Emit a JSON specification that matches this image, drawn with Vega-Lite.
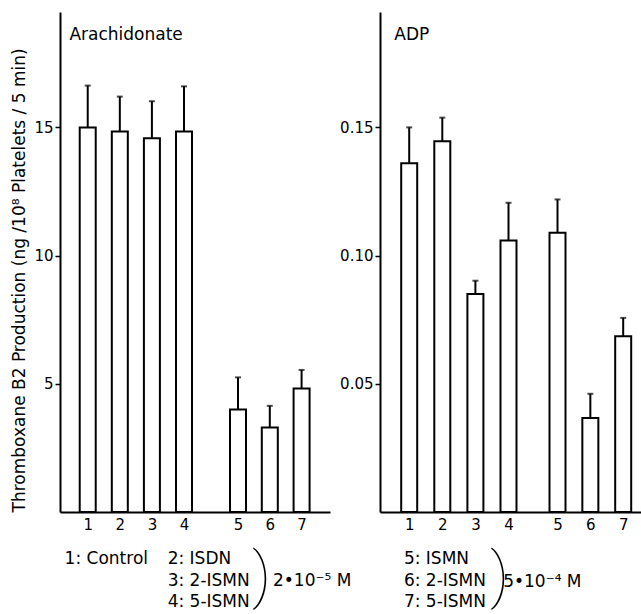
{
  "$schema": "https://vega.github.io/schema/vega-lite/v6.json",
  "padding": {"left": 10, "top": 12, "right": 0, "bottom": 0},
  "bounds": "flush",
  "spacing": 50,
  "config": {
    "view": {"stroke": null},
    "font": "DejaVu Sans",
    "axis": {"domainColor": "black", "domainWidth": 2, "tickColor": "black", "labelColor": "black", "titleColor": "black", "grid": false, "labelFont": "DejaVu Sans", "titleFont": "DejaVu Sans"},
    "text": {"font": "DejaVu Sans", "color": "black"}
  },
  "hconcat": [
    {
      "width": 270,
      "height": 500,
      "data": {"values": [
        {"n": 1, "mean": 15.0, "upper": 16.63},
        {"n": 2, "mean": 14.84, "upper": 16.2},
        {"n": 3, "mean": 14.58, "upper": 16.02},
        {"n": 4, "mean": 14.84, "upper": 16.6},
        {"n": 5, "mean": 4.0, "upper": 5.25},
        {"n": 6, "mean": 3.3, "upper": 4.14},
        {"n": 7, "mean": 4.82, "upper": 5.54}
      ]},
      "layer": [
        {
          "mark": {"type": "bar", "size": 16, "fill": "white", "stroke": "black", "strokeWidth": 2},
          "encoding": {
            "x": {"field": "n", "type": "quantitative",
              "scale": {"domain": [0.28, 4, 5, 7.75], "range": [0, 124, 178, 270], "zero": false, "nice": false},
              "axis": {"values": [1, 2, 3, 4, 5, 6, 7], "format": "d", "ticks": false, "labelFontSize": 15, "labelPadding": 5, "title": null}},
            "y": {"field": "mean", "type": "quantitative",
              "scale": {"domain": [0, 19.5], "nice": false},
              "axis": {"values": [5, 10, 15], "tickSize": 5, "tickWidth": 1.5, "labelFontSize": 15, "labelPadding": 2,
                "title": "Thromboxane B2 Production (ng /10⁸ Platelets / 5 min)", "titleFontSize": 17, "titleFontWeight": "normal", "titleAnchor": "start", "titlePadding": 5}}
          }
        },
        {
          "mark": {"type": "rule", "stroke": "black", "strokeWidth": 2},
          "encoding": {
            "x": {"field": "n", "type": "quantitative"},
            "y": {"field": "mean", "type": "quantitative"},
            "y2": {"field": "upper"}
          }
        },
        {
          "mark": {"type": "tick", "orient": "horizontal", "size": 6, "thickness": 2, "color": "black"},
          "encoding": {
            "x": {"field": "n", "type": "quantitative"},
            "y": {"field": "upper", "type": "quantitative"}
          }
        },
        {
          "data": {"values": [{}]},
          "mark": {"type": "text", "align": "left", "baseline": "alphabetic", "fontSize": 17},
          "encoding": {"x": {"datum": 0.43}, "y": {"datum": 18.4}, "text": {"value": "Arachidonate"}}
        },
        {
          "data": {"values": [{}]},
          "mark": {"type": "text", "align": "left", "baseline": "alphabetic", "fontSize": 17},
          "encoding": {"x": {"datum": 0.28}, "y": {"datum": -2.03}, "text": {"value": "1: Control"}}
        },
        {
          "data": {"values": [{}]},
          "mark": {"type": "text", "align": "left", "baseline": "alphabetic", "fontSize": 17, "lineHeight": 21.5},
          "encoding": {"x": {"datum": 3.49}, "y": {"datum": -2.03}, "text": {"value": ["2: ISDN", "3: 2-ISMN", "4: 5-ISMN"]}}
        },
        {
          "data": {"values": [{}]},
          "mark": {"type": "text", "align": "left", "baseline": "middle", "fontSize": 62, "font": "Roboto", "fontWeight": 100},
          "encoding": {"x": {"datum": 5.45}, "y": {"datum": -2.55}, "text": {"value": ")"}}
        },
        {
          "data": {"values": [{}]},
          "mark": {"type": "text", "align": "left", "baseline": "alphabetic", "fontSize": 17},
          "encoding": {"x": {"datum": 6.1}, "y": {"datum": -2.89}, "text": {"value": "2•10⁻⁵ M"}}
        }
      ]
    },
    {
      "width": 261,
      "height": 500,
      "data": {"values": [
        {"n": 1, "mean": 0.136, "upper": 0.150},
        {"n": 2, "mean": 0.1446, "upper": 0.1538},
        {"n": 3, "mean": 0.085, "upper": 0.0902},
        {"n": 4, "mean": 0.1059, "upper": 0.1206},
        {"n": 5, "mean": 0.1089, "upper": 0.1219},
        {"n": 6, "mean": 0.0367, "upper": 0.0461},
        {"n": 7, "mean": 0.0685, "upper": 0.0757}
      ]},
      "layer": [
        {
          "mark": {"type": "bar", "size": 16, "fill": "white", "stroke": "black", "strokeWidth": 2},
          "encoding": {
            "x": {"field": "n", "type": "quantitative",
              "scale": {"domain": [0.26, 4, 5, 7.4], "range": [0, 128.5, 177.5, 261], "zero": false, "nice": false},
              "axis": {"values": [1, 2, 3, 4, 5, 6, 7], "format": "d", "ticks": false, "labelFontSize": 15, "labelPadding": 5, "title": null}},
            "y": {"field": "mean", "type": "quantitative",
              "scale": {"domain": [0, 0.195], "nice": false},
              "axis": {"values": [0.05, 0.1, 0.15], "format": ".2f", "tickSize": 5, "tickWidth": 1.5, "labelFontSize": 15, "labelPadding": 2, "title": null}}
          }
        },
        {
          "mark": {"type": "rule", "stroke": "black", "strokeWidth": 2},
          "encoding": {
            "x": {"field": "n", "type": "quantitative"},
            "y": {"field": "mean", "type": "quantitative"},
            "y2": {"field": "upper"}
          }
        },
        {
          "mark": {"type": "tick", "orient": "horizontal", "size": 6, "thickness": 2, "color": "black"},
          "encoding": {
            "x": {"field": "n", "type": "quantitative"},
            "y": {"field": "upper", "type": "quantitative"}
          }
        },
        {
          "data": {"values": [{}]},
          "mark": {"type": "text", "align": "left", "baseline": "alphabetic", "fontSize": 17},
          "encoding": {"x": {"datum": 0.55}, "y": {"datum": 0.184}, "text": {"value": "ADP"}}
        },
        {
          "data": {"values": [{}]},
          "mark": {"type": "text", "align": "left", "baseline": "alphabetic", "fontSize": 17, "lineHeight": 21.5},
          "encoding": {"x": {"datum": 0.84}, "y": {"datum": -0.0203}, "text": {"value": ["5: ISMN", "6: 2-ISMN", "7: 5-ISMN"]}}
        },
        {
          "data": {"values": [{}]},
          "mark": {"type": "text", "align": "left", "baseline": "middle", "fontSize": 62, "font": "Roboto", "fontWeight": 100},
          "encoding": {"x": {"datum": 3.45}, "y": {"datum": -0.0255}, "text": {"value": ")"}}
        },
        {
          "data": {"values": [{}]},
          "mark": {"type": "text", "align": "left", "baseline": "alphabetic", "fontSize": 17},
          "encoding": {"x": {"datum": 3.84}, "y": {"datum": -0.0293}, "text": {"value": "5•10⁻⁴ M"}}
        }
      ]
    }
  ]
}
